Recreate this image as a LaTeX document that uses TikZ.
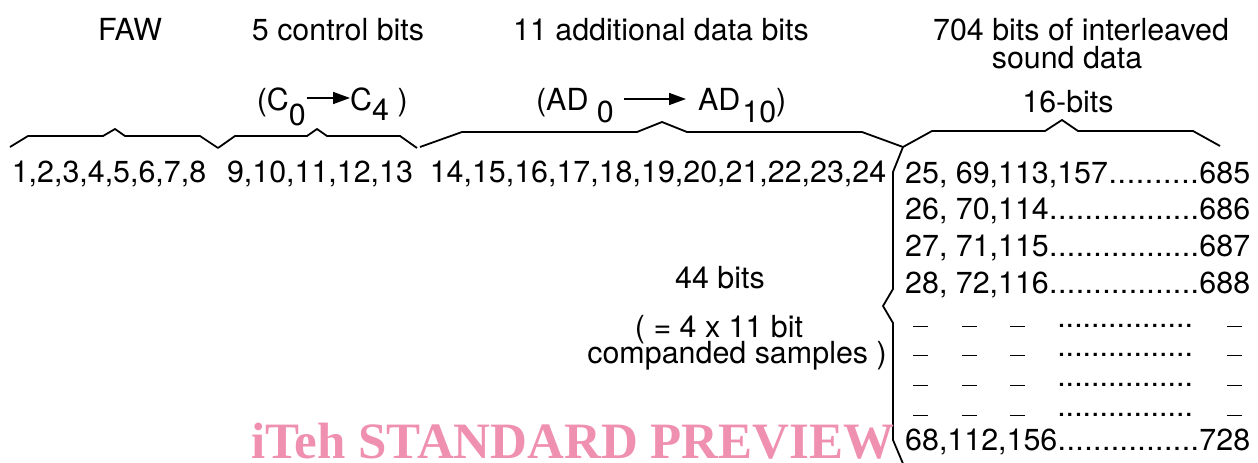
\documentclass[tikz,border=0pt]{standalone}
\usepackage{fontspec}
\setmainfont{TeX Gyre Heros}
\newfontfamily\wmfont{Liberation Serif}
\usetikzlibrary{arrows.meta}
\definecolor{wmpink}{RGB}{240,144,176}
\newcommand{\lowsub}[2][12pt]{\raisebox{-#1}{#2}}
\newcommand{\datarow}[2]{\hbox to 345pt{#1\xleaders\hbox{.}\hfill#2}}
\newcommand{\dashbar}{\rule{15pt}{1.5pt}}
\newcommand{\gaprow}{\hbox to 345pt{\hspace{8pt}\dashbar\hspace{34pt}\dashbar
  \hspace{33pt}\dashbar\hspace{32pt}\hbox to 136pt{\xleaders\hbox{.}\hfill}%
  \hspace{34pt}\dashbar\hfil}}

\begin{document}
\begin{tikzpicture}[x=1pt, y=-1pt,
  txt/.style={font=\fontsize{30.4}{36}\selectfont, inner sep=0pt, anchor=base},
  lft/.style={txt, anchor=base west},
  rgt/.style={txt, anchor=base east},
  brace/.style={line width=1.8pt},
  sel/.style={line width=1.6pt, -{Triangle[length=17pt,width=12pt]}}]
\useasboundingbox (0,0) rectangle (1258,463);

\draw (130,40) node[txt] (faw) {FAW};
\draw (338,40) node[txt] (ctl) {5 control bits};
\draw (661,40) node[txt] (add) {11 additional data bits};
\draw (1081,40) node[txt] (snd) {704 bits of interleaved};
\draw (1067,68) node[txt] (snda) {sound data};
\draw (1068,112) node[txt] (sbits) {16-bits};

\draw (306,110) node[rgt] (c0) {(C\lowsub[15pt]{0}};
\draw (350,110) node[lft] (c4) {C\lowsub[10pt]{4} )};
\draw[sel] ([xshift=1pt,yshift=12pt]c0.base east) -- ([yshift=12pt]c4.base west);

\draw (614,110) node[rgt] (ad0) {(AD \lowsub{0}};
\draw (698,110) node[lft] (ad10) {AD\hspace{2pt}\lowsub{10})};
\draw[sel] ([xshift=10pt,yshift=11pt]ad0.base east) -- ([xshift=-12pt,yshift=11pt]ad10.base west);

\draw[brace] (10,147) -- (28,136) -- (103,136) -- (115,129) -- (125,136) -- (200,136) -- (218,148);
\draw[brace] (218,148) -- (235,136) -- (307,136) -- (317,129) -- (327,136) -- (400,136) -- (417,148);
\draw[brace] (420,147) -- (462,132) -- (637,132) -- (662,122) -- (687,132) -- (862,132) -- (903,147);
\draw[brace] (903,147) -- (932,131) -- (1045,131) -- (1062,120) -- (1078,131) -- (1193,131) -- (1220,146);
\draw[brace] (903,147) -- (893,172) -- (893,289) -- (883,306) -- (893,323) -- (893,440) -- (904,466);

\draw (109,182) node[txt] (nfaw) {1,2,3,4,5,6,7,8};
\draw (320,182) node[txt] (nctl) {9,10,11,12,13};
\draw (658,182) node[txt] (nadd) {14,15,16,17,18,19,20,21,22,23,24};

\draw (905,183) node[lft] (r1) {\datarow{25, 69,113,157}{685}};
\draw (905,219) node[lft] (r2) {\datarow{26, 70,114}{686}};
\draw (905,256) node[lft] (r3) {\datarow{27, 71,115}{687}};
\draw (905,293) node[lft] (r4) {\datarow{28, 72,116}{688}};
\draw (905,327) node[lft] (g1) {\gaprow};
\draw (905,356) node[lft] (g2) {\gaprow};
\draw (905,386) node[lft] (g3) {\gaprow};
\draw (905,416) node[lft] (g4) {\gaprow};
\draw (905,450) node[lft] (r44) {\datarow{68,112,156}{728}};

\draw (720,288) node[txt] (smp) {44 bits};
\draw (719,337) node[txt] (smpa) {( = 4 x 11 bit};
\draw (737,363) node[txt] (smpb) {companded samples )};

\draw (251,458) node[inner sep=0pt, anchor=base west, text=wmpink,
  font=\wmfont\bfseries\fontsize{51}{56}\selectfont] (wm) {iTeh STANDARD PREVIEW};

\end{tikzpicture}
\end{document}
